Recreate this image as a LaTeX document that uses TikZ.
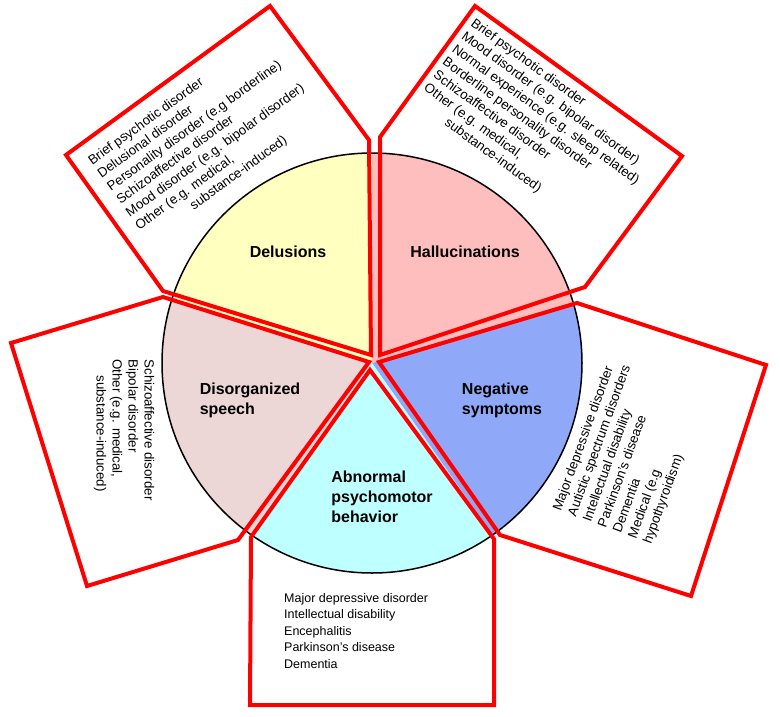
\documentclass[tikz,border=0pt]{standalone}
\usepackage{fontspec}
\setmainfont{Liberation Sans}
\begin{document}
\begin{tikzpicture}[x=1pt,y=-1pt,
  box/.style={draw=red,line width=4pt,line join=miter},
  lab/.style={font=\fontsize{16}{20}\selectfont\bfseries,align=left},
  lst/.style={font=\fontsize{13.3}{16}\selectfont,align=left}]
\useasboundingbox (0,0) rectangle (780,716);
\coordinate (c) at (372,363);
\def\R{210}
\fill[fill={rgb,255:red,255;green,255;blue,192}] (c) -- ++(90:-\R) arc[start angle=-90,end angle=-162,radius=\R] -- cycle;
\fill[fill={rgb,255:red,255;green,190;blue,190}] (c) -- ++(0,-\R) arc[start angle=-90,end angle=-16,radius=\R] -- cycle;
\fill[fill={rgb,255:red,143;green,168;blue,248}] (c) -- ++(-16:\R) arc[start angle=-16,end angle=55,radius=\R] -- cycle;
\fill[fill={rgb,255:red,190;green,255;blue,255}] (c) -- ++(55:\R) arc[start angle=55,end angle=125,radius=\R] -- cycle;
\fill[fill={rgb,255:red,236;green,214;blue,214}] (c) -- ++(125:\R) arc[start angle=125,end angle=198,radius=\R] -- cycle;
\draw[line width=1.5pt] (c) circle[radius=\R];
% boxes
\draw[box] (66,155) -- (270,6) -- (369,140) -- (371,355) -- (163,291) -- cycle;
\draw[box] (380,137) -- (475,6) -- (682,156) -- (585,287) -- (380,355) -- cycle;
\draw[box] (163,297) -- (369,362) -- (238,540) -- (87,586) -- (11,343) -- cycle;
\draw[box] (379,362) -- (577,303) -- (766,365) -- (691,596) -- (500,535) -- cycle;
\draw[box] (370,370) -- (494,539) -- (494,705) -- (250,705) -- (251,537) -- cycle;
% labels
\node[lab] (del) at (288,252) {Delusions};
\node[lab] (hal) at (465,252) {Hallucinations};
\node[lab] (dis) at (250,400) {Disorganized\\speech};
\node[lab] (neg) at (502,400) {Negative\\symptoms};
\node[lab] (abn) at (382,497) {Abnormal\\psychomotor\\behavior};
% lists
\node[lst,rotate=36] (ldel) at (206,138) {Brief psychotic disorder\\Delusional disorder\\Personality disorder (e.g borderline)\\Schizoaffective disorder\\Mood disorder (e.g. bipolar disorder)\\Other (e.g. medical,\\\hspace{4.2em}substance-induced)};
\node[lst,rotate=-36] (lhal) at (536,128) {Brief psychotic disorder\\Mood disorder (e.g. bipolar disorder)\\Normal experience (e.g. sleep related)\\Borderline personality disorder\\Schizoaffective disorder\\Other (e.g. medical,\\\hspace{2.8em}substance-induced)};
\node[lst,rotate=-90] (ldis) at (124,430) {Schizoaffective disorder\\Bipolar disorder\\Other (e.g. medical,\\\hspace{1.2em}substance-induced)};
\node[lst,rotate=70] (lneg) at (630,452) {Major depressive disorder\\Autistic spectrum disorders\\Intellectual disability\\Parkinson's disease\\Dementia\\Medical (e.g\\hypothyroidism)};
\node[font=\fontsize{12.5}{16.5}\selectfont,align=left,anchor=north west,inner sep=0pt] (labn) at (284,593) {Major depressive disorder\\Intellectual disability\\Encephalitis\\Parkinson's disease\\Dementia};
\end{tikzpicture}
\end{document}
